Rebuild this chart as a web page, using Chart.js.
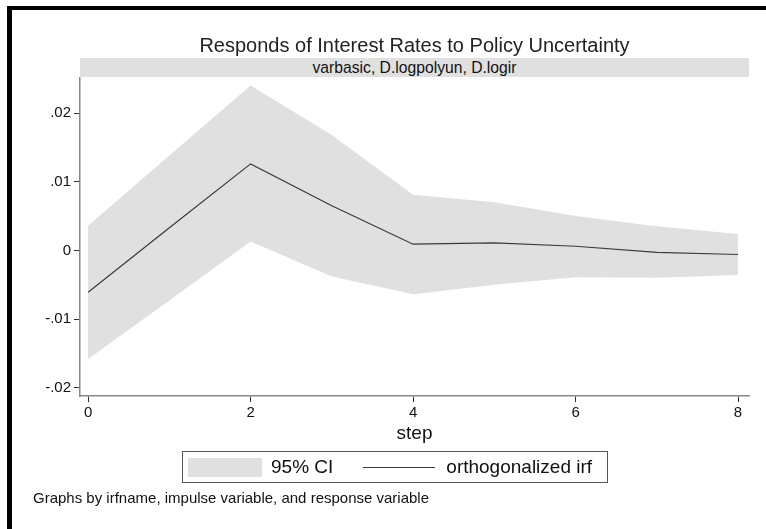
<!DOCTYPE html>
<html>
<head>
<meta charset="utf-8">
<script src="https://cdn.jsdelivr.net/npm/chart.js@4"></script>
<style>
  html { overflow: hidden; }
  body { margin: 0; width: 766px; height: 529px; background: #fff; position: relative; overflow: hidden;
         font-family: Arial, "Liberation Sans", sans-serif; color: #111; }
  #frame { position: absolute; left: 7px; top: 6px; width: 759px; height: 523px;
           border-top: 4px solid #000; border-left: 5px solid #000; box-sizing: border-box; }
  #chart-canvas { position: absolute; left: 0; top: 0; }
  #title { position: absolute; left: 80px; width: 669px; top: 33px; text-align: center;
           font-size: 20px; line-height: 24px; color: #222; }
  #band { position: absolute; left: 80px; width: 669px; top: 58px; height: 19px; background: #e0e0e0;
          text-align: center; font-size: 15.7px; line-height: 19px; color: #111; }
  #legend { position: absolute; left: 182px; top: 451px; width: 426px; height: 32px;
            border: 1px solid #555; display: flex; align-items: center; padding-left: 5px;
            box-sizing: border-box; font-size: 19px; }
  #legend .sw { display: inline-block; width: 74px; height: 19px; margin-right: 9px; }
  #legend .ln { display: inline-block; width: 72px; height: 0; margin-right: 11px; }
  #legend .gap { margin-right: 30px; }
  #note { position: absolute; left: 33px; top: 489px; font-size: 15px; color: #111; }
</style>
</head>
<body>
<div id="frame"></div>
<canvas id="chart-canvas" width="766" height="529"></canvas>
<div id="title">Responds of Interest Rates to Policy Uncertainty</div>
<div id="band">varbasic, D.logpolyun, D.logir</div>
<div id="legend"></div>
<div id="note">Graphs by irfname, impulse variable, and response variable</div>
<script>
const steps = [0, 1, 2, 3, 4, 5, 6, 7, 8];
const irf = [-0.0061, 0.0033, 0.0126, 0.0065, 0.0009, 0.0011, 0.0006, -0.0003, -0.0006];
const ciUpper = [0.0036, 0.0138, 0.0240, 0.0168, 0.0081, 0.0070, 0.0050, 0.0035, 0.0024];
const ciLower = [-0.0158, -0.0073, 0.0013, -0.0038, -0.0064, -0.0050, -0.0039, -0.0040, -0.0036];
const xTicks = [0, 2, 4, 6, 8];
const yTicks = [-0.02, -0.01, 0, 0.01, 0.02];

const ciColor = '#e0e0e0';
const lineColor = '#3a3a3a';

const toPoints = vals => steps.map((s, i) => ({ x: s, y: vals[i] }));

// stata style labels: .02, -.01, 0
const fmtY = v => {
  if (Math.abs(v) < 1e-12) return '0';
  return (v < 0 ? '-' : '') + Math.abs(v).toFixed(2).replace(/^0/, '');
};

const ctx = document.getElementById('chart-canvas').getContext('2d');
const chart = new Chart(ctx, {
  type: 'line',
  data: {
    datasets: [
      {
        label: '95% CI',
        data: toPoints(ciUpper),
        borderColor: 'rgba(0,0,0,0)',
        borderWidth: 0,
        backgroundColor: ciColor,
        pointRadius: 0,
        fill: 1,
        order: 2
      },
      {
        label: 'lower',
        data: toPoints(ciLower),
        borderColor: 'rgba(0,0,0,0)',
        borderWidth: 0,
        pointRadius: 0,
        fill: false,
        order: 2
      },
      {
        label: 'orthogonalized irf',
        data: toPoints(irf),
        borderColor: lineColor,
        borderWidth: 1.2,
        pointRadius: 0,
        fill: false,
        order: 0
      }
    ]
  },
  options: {
    responsive: false,
    animation: false,
    layout: { padding: { top: 78, right: 17, bottom: 83, left: 0 } },
    plugins: {
      legend: { display: false },
      tooltip: { enabled: false },
      title: { display: false }
    },
    scales: {
      x: {
        type: 'linear',
        min: -0.1,
        max: 8.135,
        afterBuildTicks: s => { s.ticks = xTicks.map(v => ({ value: v })); },
        afterFit: s => { s.height = 50; },
        ticks: {
          font: { family: 'Arial, "Liberation Sans", sans-serif', size: 15 },
          color: '#111',
          padding: 2,
          maxRotation: 0,
          autoSkip: false
        },
        grid: { drawOnChartArea: false, drawTicks: true, tickLength: 6, color: '#333' },
        border: { display: true, color: '#888', width: 1.5 },
        title: {
          display: true,
          text: 'step',
          font: { family: 'Arial, "Liberation Sans", sans-serif', size: 19 },
          color: '#111',
          padding: { top: 0, bottom: 1 }
        }
      },
      y: {
        min: -0.0212,
        max: 0.0251,
        afterBuildTicks: s => { s.ticks = yTicks.map(v => ({ value: v })); },
        afterFit: s => { s.width = 80; },
        ticks: {
          font: { family: 'Arial, "Liberation Sans", sans-serif', size: 15 },
          color: '#111',
          padding: 3,
          callback: v => fmtY(v)
        },
        grid: { drawOnChartArea: false, drawTicks: true, tickLength: 6, color: '#333' },
        border: { display: true, color: '#888', width: 1.5 }
      }
    }
  }
});

// legend box like stata's, built from the datasets
const legend = document.getElementById('legend');
const ciDs = chart.data.datasets[0];
const irfDs = chart.data.datasets[2];
legend.innerHTML = `
  <span class="sw" style="background:${ciDs.backgroundColor}"></span><span class="gap">${ciDs.label}</span>
  <span class="ln" style="border-top:1.2px solid ${irfDs.borderColor}"></span><span>${irfDs.label}</span>
`;
</script>
</body>
</html>
